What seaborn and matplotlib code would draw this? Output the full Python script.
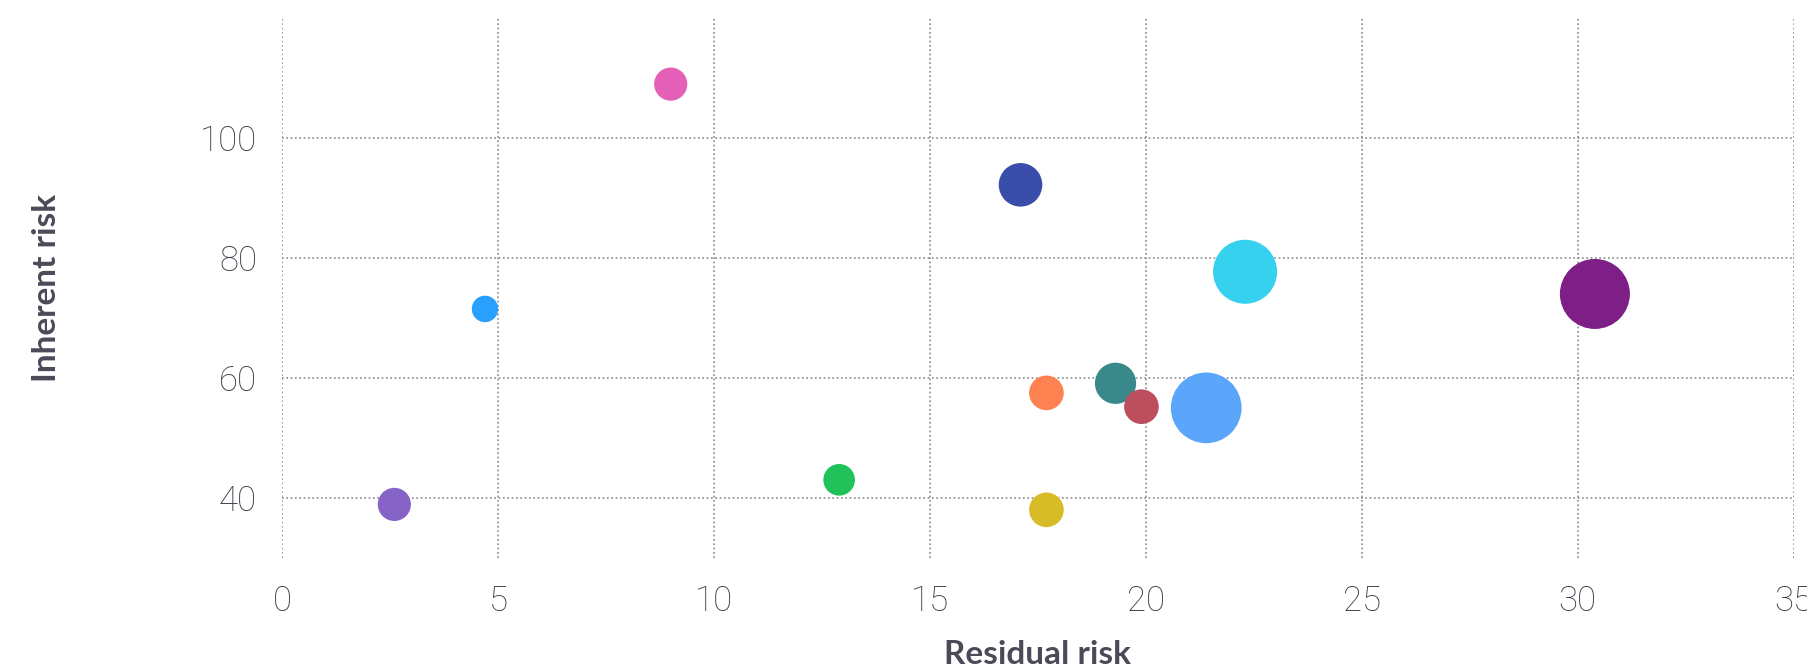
import matplotlib
matplotlib.use("Agg")
import matplotlib.pyplot as plt
import seaborn as sns
import pandas as pd

# Risk register: residual vs inherent risk, bubble area = exposure
risks = ["R1", "R2", "R3", "R4", "R5", "R6", "R7", "R8", "R9", "R10", "R11", "R12"]
residual = [9.0, 17.1, 22.3, 30.4, 4.7, 19.3, 17.7, 19.9, 21.4, 12.9, 2.6, 17.7]
inherent = [109.0, 92.2, 77.7, 74.0, 71.5, 59.1, 57.5, 55.2, 55.0, 43.0, 38.9, 38.0]
exposure = [11, 19, 41, 49, 7, 17, 12, 12, 50, 10, 11, 12]
colors = ["#e45fb7", "#3a4dab", "#36d1ee", "#7e1f87", "#299ffe", "#39888a",
          "#fe8251", "#bc4e5e", "#5ba6fb", "#22c25a", "#8664c7", "#d7bc27"]

x_ticks = [0, 5, 10, 15, 20, 25, 30, 35]
y_ticks = [40, 60, 80, 100]

df = pd.DataFrame({"risk": risks, "Residual risk": residual,
                   "Inherent risk": inherent, "exposure": exposure})

sns.set_theme(style="white")
plt.rcParams["font.family"] = ["Lato", "DejaVu Sans"]

TEXT = "#4a4a58"
TICK = "#3c3c4a"

fig = plt.figure(figsize=(18.08, 6.72), dpi=100)
ax = fig.add_axes([0.156, 0.170, 0.836, 0.803])

sns.scatterplot(data=df, x="Residual risk", y="Inherent risk",
                hue="risk", palette=colors, size="exposure",
                sizes=(0, 2592), size_norm=(0, 50),
                linewidth=0, alpha=1, legend=False, ax=ax, zorder=3)

ax.set_xlim(0, 35)
ax.set_ylim(30, 120)
ax.set_xticks(x_ticks)
ax.set_yticks(y_ticks)

ax.grid(True, color="#8a8a8a", linestyle=(0, (1, 1.6)), linewidth=1.2)
ax.set_axisbelow(True)
for s in ax.spines.values():
    s.set_visible(False)

ax.tick_params(axis="both", length=0, labelcolor=TICK)
ax.tick_params(axis="x", pad=19)
ax.tick_params(axis="y", pad=18)
for lab in ax.get_xticklabels() + ax.get_yticklabels():
    lab.set_fontfamily(["Roboto", "DejaVu Sans"])
    lab.set_fontweight("light")
    lab.set_fontsize(25)
    lab.set_color(TICK)

ax.set_xlabel("Residual risk", fontsize=24, fontweight="bold", color=TEXT, labelpad=16)
ax.set_ylabel("Inherent risk", fontsize=24, fontweight="bold", color=TEXT, labelpad=100)

fig.savefig("out.png", dpi=100, facecolor="white")
